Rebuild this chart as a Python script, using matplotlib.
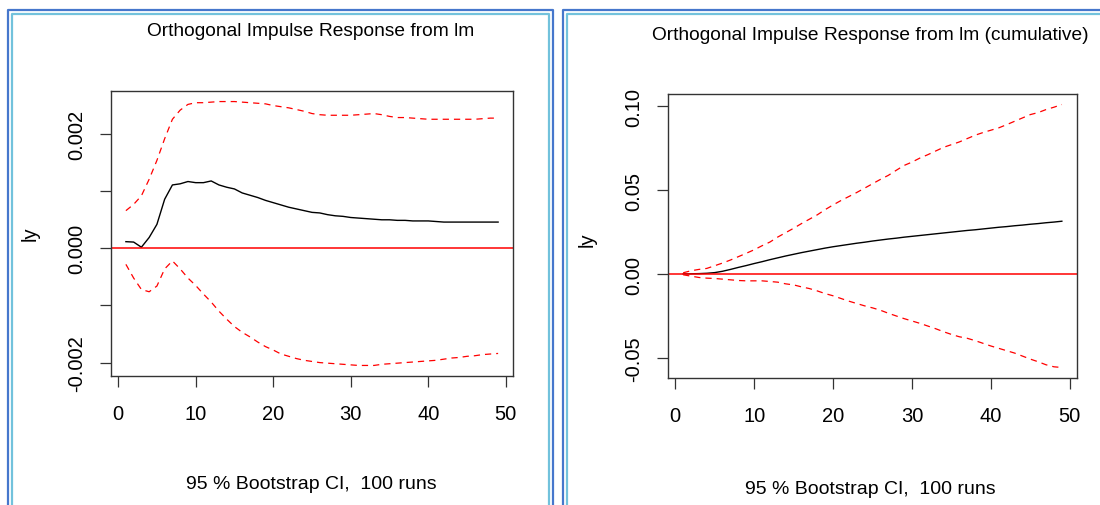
import numpy as np
import matplotlib.pyplot as plt

plt.rcParams['font.family'] = ['Liberation Sans', 'DejaVu Sans']

steps = np.arange(1, 50)

# orthogonal impulse response of ly to a shock in lm
irf = [0.000117, 0.00011, 0.00002, 0.00019, 0.00042, 0.00086, 0.00111, 0.00113,
       0.00117, 0.00115, 0.00115, 0.00118, 0.00111, 0.00107, 0.00104, 0.00097,
       0.00093, 0.00089, 0.00084, 0.00080, 0.00076, 0.00072, 0.00069, 0.00066,
       0.00063, 0.00062, 0.00059, 0.00057, 0.00056, 0.00054, 0.00053, 0.00052,
       0.00051, 0.00050, 0.00050, 0.00049, 0.00049, 0.00048, 0.00048, 0.00048,
       0.00047, 0.00046, 0.00046, 0.00046, 0.00046, 0.00046, 0.00046, 0.00046,
       0.00046]
irf_upper = [0.00066, 0.00077, 0.00092, 0.00121, 0.00154, 0.00192, 0.00226, 0.00242,
             0.00252, 0.00255, 0.00255, 0.00256, 0.00257, 0.00257, 0.00257, 0.00256,
             0.00255, 0.00254, 0.00253, 0.00250, 0.00248, 0.00246, 0.00243, 0.00240,
             0.00236, 0.00234, 0.00233, 0.00233, 0.00233, 0.00233, 0.00234, 0.00235,
             0.00236, 0.00234, 0.00231, 0.00229, 0.00229, 0.00228, 0.00227, 0.00226,
             0.00226, 0.00226, 0.00226, 0.00226, 0.00226, 0.00226, 0.00227, 0.00228,
             0.00228]
irf_lower = [-0.00028, -0.00052, -0.00072, -0.00076, -0.00066, -0.00036, -0.00022, -0.00036,
             -0.00052, -0.00065, -0.00080, -0.00094, -0.00110, -0.00124, -0.00137, -0.00147,
             -0.00155, -0.00164, -0.00172, -0.00178, -0.00185, -0.00189, -0.00193, -0.00196,
             -0.00198, -0.00200, -0.00201, -0.00202, -0.00203, -0.00204, -0.00205, -0.00205,
             -0.00205, -0.00203, -0.00202, -0.00201, -0.00200, -0.00199, -0.00198, -0.00197,
             -0.00196, -0.00194, -0.00192, -0.00191, -0.00189, -0.00188, -0.00186, -0.00185,
             -0.00184]

# cumulative response
cum = [0.0001, 0.0002, 0.0003, 0.0005, 0.0009, 0.0017, 0.0028, 0.0040, 0.0051, 0.0063,
       0.0074, 0.0086, 0.0097, 0.0108, 0.0118, 0.0128, 0.0137, 0.0146, 0.0155, 0.0163,
       0.0170, 0.0177, 0.0184, 0.0190, 0.0197, 0.0203, 0.0209, 0.0214, 0.0220, 0.0225,
       0.0230, 0.0235, 0.0240, 0.0245, 0.0250, 0.0255, 0.0260, 0.0264, 0.0269, 0.0274,
       0.0279, 0.0283, 0.0288, 0.0292, 0.0297, 0.0301, 0.0306, 0.0310, 0.0315]
cum_upper = [0.0008, 0.0020, 0.0028, 0.0034, 0.0050, 0.0066, 0.0084, 0.0104, 0.0124, 0.0145,
             0.0169, 0.0191, 0.0221, 0.0247, 0.0273, 0.0301, 0.0327, 0.0353, 0.0384, 0.0412,
             0.0438, 0.0462, 0.0486, 0.0512, 0.0538, 0.0564, 0.0588, 0.0618, 0.0647, 0.0667,
             0.0691, 0.0711, 0.0733, 0.0755, 0.0771, 0.0787, 0.0807, 0.0827, 0.0843, 0.0857,
             0.0871, 0.0890, 0.0910, 0.0930, 0.0950, 0.0962, 0.0980, 0.0994, 0.1010]
cum_lower = [-0.0004, -0.0012, -0.0020, -0.0024, -0.0026, -0.0030, -0.0034, -0.0038, -0.0040, -0.0040,
             -0.0040, -0.0044, -0.0048, -0.0058, -0.0064, -0.0076, -0.0086, -0.0100, -0.0116, -0.0129,
             -0.0145, -0.0161, -0.0175, -0.0189, -0.0201, -0.0215, -0.0233, -0.0249, -0.0265, -0.0279,
             -0.0293, -0.0309, -0.0325, -0.0343, -0.0359, -0.0373, -0.0382, -0.0396, -0.0412, -0.0428,
             -0.0442, -0.0456, -0.0470, -0.0488, -0.0506, -0.0522, -0.0540, -0.0552, -0.0556]

xticks = [0, 10, 20, 30, 40, 50]
yticks_left = [-0.002, -0.001, 0.0, 0.001, 0.002]
ylabels_left = ['-0.002', '', '0.000', '', '0.002']
yticks_right = [-0.05, 0.0, 0.05, 0.10]
ylabels_right = ['-0.05', '0.00', '0.05', '0.10']

W, H = 1100, 506
fig = plt.figure(figsize=(W / 100, H / 100), dpi=100)

# window frames drawn in pixel space
bg = fig.add_axes([0, 0, 1, 1])
bg.set_xlim(0, W)
bg.set_ylim(H, 0)
bg.axis('off')
dark, light = '#4677cc', '#72c2dc'
# left window
bg.plot([8, 8, 553, 553], [H + 5, 11, 11, H + 5], color=dark, lw=1.6)
bg.plot([12, 12, 549, 549], [H + 5, 15, 15, H + 5], color=light, lw=1.6)
# right window
bg.plot([563, 563, W + 5], [H + 5, 11, 11], color=dark, lw=1.6)
bg.plot([567, 567, W + 5], [H + 5, 15, 15], color=light, lw=1.6)


def px_axes(l, t, r, b):
    return fig.add_axes([l / W, 1 - b / H, (r - l) / W, (b - t) / H])


def irf_panel(ax, mid, up, lo, yt, yl):
    ax.plot(steps, mid, color='black', lw=1.0)
    ax.plot(steps, up, color='red', lw=0.9, dashes=(5, 4))
    ax.plot(steps, lo, color='red', lw=0.9, dashes=(5, 4))
    ax.axhline(0, color='red', lw=1.1)
    ax.margins(x=0.04, y=0.04)
    ax.set_xticks(xticks)
    ax.set_yticks(yt)
    ax.set_yticklabels(yl, rotation=90, va='center')
    ax.tick_params(axis='both', direction='out', length=8, width=0.9,
                   labelsize=14.5, color='#333333')
    ax.tick_params(axis='x', pad=12)
    ax.tick_params(axis='y', pad=10)
    for s in ax.spines.values():
        s.set_color('#333333')
        s.set_linewidth(1.0)


ax1 = px_axes(111, 92, 513, 377)
irf_panel(ax1, irf, irf_upper, irf_lower, yticks_left, ylabels_left)
ax2 = px_axes(668, 95, 1077, 379)
irf_panel(ax2, cum, cum_upper, cum_lower, yticks_right, ylabels_right)

fig.text(311 / W, 1 - 32 / H, 'Orthogonal Impulse Response from lm',
         ha='center', va='center', fontsize=13.8)
fig.text(870 / W, 1 - 35 / H, 'Orthogonal Impulse Response from lm (cumulative)',
         ha='center', va='center', fontsize=13.8)
fig.text(311 / W, 1 - 485 / H, '95 % Bootstrap CI,  100 runs',
         ha='center', va='center', fontsize=14)
fig.text(870 / W, 1 - 490 / H, '95 % Bootstrap CI,  100 runs',
         ha='center', va='center', fontsize=14)
fig.text(30 / W, 1 - 234 / H, 'ly', rotation=90, ha='center', va='center', fontsize=14.5)
fig.text(587 / W, 1 - 240 / H, 'ly', rotation=90, ha='center', va='center', fontsize=14.5)

fig.savefig('out.png', dpi=100)
